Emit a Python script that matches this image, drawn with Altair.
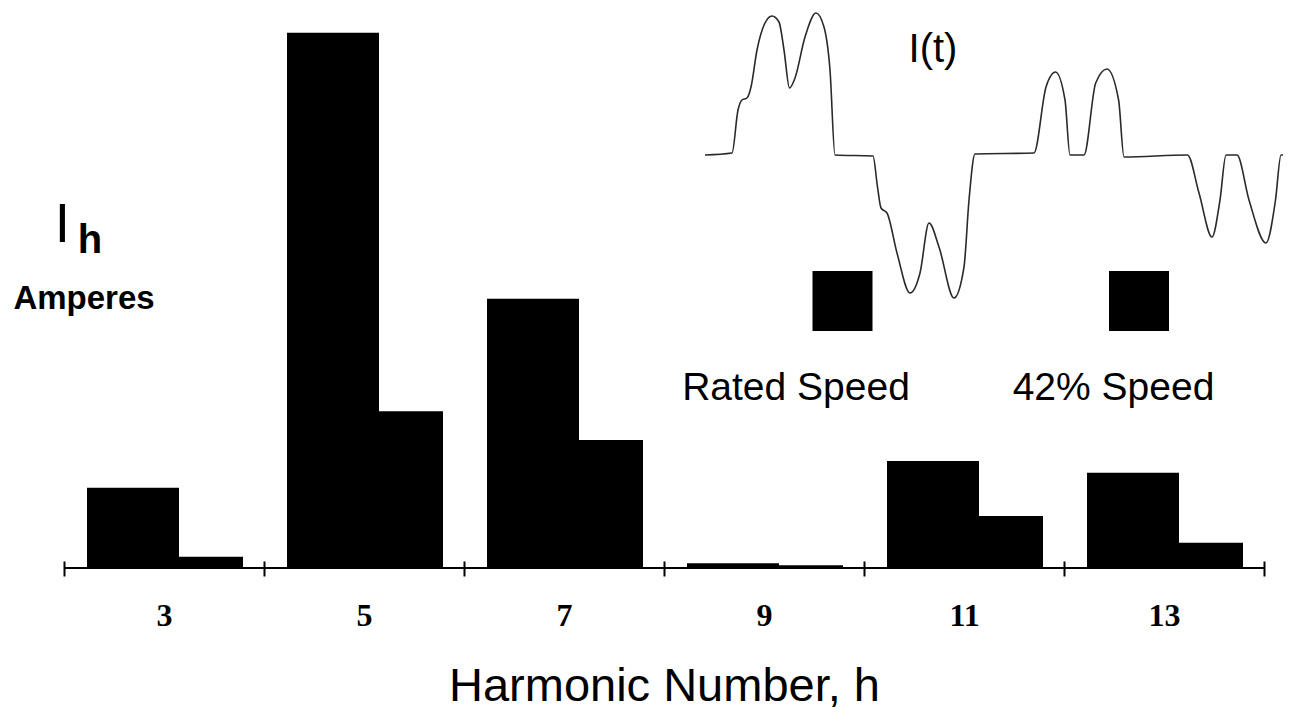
import altair as alt
import pandas as pd

# ---- data (arbitrary ampere units, 5th harmonic at rated speed = 100) ----
harmonics = [3, 5, 7, 9, 11, 13]
series_names = ["Rated Speed", "42% Speed"]
rated_speed = [15.0, 100.0, 50.3, 0.9, 20.0, 17.8]
speed_42 = [2.1, 29.3, 23.9, 0.5, 9.7, 4.7]

# inset current waveform I(t) (arbitrary time / current units)
wave_t = [0.0, 2.7, 3.3, 3.7, 4.2, 4.6, 5.2, 6.0, 6.7, 7.4, 7.9, 8.45, 9.0, 10.0, 11.1, 11.9,
          12.5, 13.0, 16.8, 17.25, 17.6, 18.2, 19.2, 20.5, 21.5, 22.4, 23.4, 24.9, 25.9, 26.4,
          27.0, 32.9, 34.1, 35.05, 36.0, 36.5, 37.9, 39.07, 40.2, 41.36, 41.9, 48.25, 49.4,
          50.7, 51.5, 52.1, 53.2, 54.4, 56.1, 57.05, 57.6, 58.5]
wave_i = [0.0, 0.2, 4.5, 5.5, 5.7, 6.8, 10.5, 13.2, 13.9, 13.3, 10.5, 6.7, 7.7, 11.8, 14.2, 12.8,
          8.5, 0.0, -0.1, -3.2, -5.3, -5.8, -9.8, -13.8, -11.8, -6.8, -9.2, -14.3, -11.2, -4.5,
          0.1, 0.2, 6.8, 8.3, 5.5, 0.0, 0.0, 7.2, 8.6, 5.5, -0.2, 0.0, -3.8,
          -8.2, -4.5, 0.0, 0.0, -4.5, -8.8, -4.5, 0.0, 0.0]

x_title = "Harmonic Number, h"
y_symbol = "I"
y_subscript = "h"
y_unit = "Amperes"
inset_title = "I(t)"

bars_df = pd.DataFrame({"h": harmonics, "rated": rated_speed, "pct": speed_42})
wave_df = pd.DataFrame({"t": wave_t, "i": wave_i})
legend_df = pd.DataFrame({"series": series_names})

# plot area: x 64..1264, y 20..568 on the page
X0, Y0 = 64, 20
W, H = 1200, 548
SANS = "Liberation Sans"
SERIF = "Liberation Serif"

x_axis = alt.Axis(
    title=x_title, labelAngle=0, tickBand="extent", domain=False,
    ticks=True, tickSize=15, tickWidth=2, tickColor="black", offset=-7,
    labelFont=SERIF, labelFontWeight="bold", labelFontSize=32, labelColor="black",
    labelPadding=24, titleFont=SANS, titleFontSize=47, titleFontWeight="normal",
    titleColor="black", titlePadding=32,
)
x_enc = alt.X("h:O", scale=alt.Scale(paddingInner=0, paddingOuter=0), axis=x_axis)
y_scale = alt.Scale(domain=[0, 102.4], nice=False)

rated = alt.Chart(bars_df).mark_bar(color="black", width=92, xOffset=-31).encode(
    x=x_enc, y=alt.Y("rated:Q", scale=y_scale, axis=None)
)
pct = alt.Chart(bars_df).mark_bar(color="black", width=64, xOffset=47).encode(
    x=x_enc, y=alt.Y("pct:Q", scale=y_scale, axis=None)
)
baseline = alt.Chart(bars_df).mark_rule(color="black", strokeWidth=2).encode(
    y=alt.datum(0, scale=y_scale)
)
bars = alt.layer(rated, pct, baseline)

wave = alt.Chart(wave_df).mark_line(color="#2a2a2a", strokeWidth=1.6, interpolate="monotone").encode(
    x=alt.X("t:Q", scale=alt.Scale(domain=[0, 58.5], range=[705 - X0, 1290 - X0], nice=False, zero=False), axis=None),
    y=alt.Y("i:Q", scale=alt.Scale(domain=[-15, 15], range=[305 - Y0, 5 - Y0], nice=False), axis=None),
)

legend_sq = alt.Chart(legend_df).mark_square(size=3600, color="black", opacity=1).encode(
    x=alt.X("series:N", scale=alt.Scale(type="point", domain=series_names, range=[842.5 - X0, 1139 - X0], padding=0), axis=None),
    y=alt.value(301 - Y0),
)
legend_txt = alt.Chart(legend_df).mark_text(font=SANS, fontSize=39, color="black", baseline="alphabetic").encode(
    x=alt.X("series:N", scale=alt.Scale(type="point", domain=series_names, range=[796 - X0, 1113.5 - X0], padding=0), axis=None),
    y=alt.value(400 - Y0),
    text="series:N",
)

def note(txt, x, y, size, weight="normal", align="center"):
    return alt.Chart(pd.DataFrame({"t": [txt]})).mark_text(
        font=SANS, fontSize=size, fontWeight=weight, color="black", align=align, baseline="alphabetic"
    ).encode(x=alt.value(x - X0), y=alt.value(y - Y0), text="t:N")

ann = [
    note(y_symbol, 62.5, 242, 55),
    note(y_subscript, 90, 253, 40, "bold"),
    note(y_unit, 84, 309, 33, "bold"),
    note(inset_title, 933, 62, 40),
]

chart = alt.layer(bars, wave, legend_sq, legend_txt, *ann).resolve_scale(
    x="independent", y="independent"
).properties(
    width=W, height=H,
    autosize=alt.AutoSizeParams(type="none"),
    padding={"left": X0 - 8, "top": Y0 - 8, "right": 19, "bottom": 150},
    background="white",
).configure_view(stroke=None)

chart.save("out.html", embed_options={"renderer": "svg", "actions": False})
